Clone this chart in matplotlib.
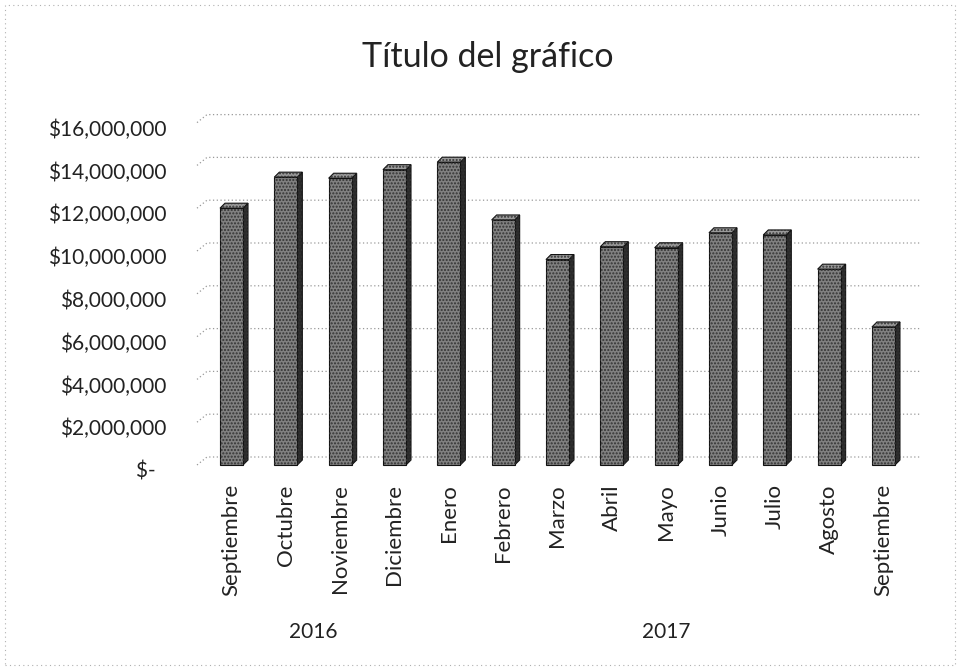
import matplotlib.pyplot as plt
from matplotlib.patches import Polygon, Rectangle
from matplotlib.transforms import ScaledTranslation
import numpy as np

# Monthly totals, Sept 2016 - Sept 2017
months = ['Septiembre', 'Octubre', 'Noviembre', 'Diciembre', 'Enero', 'Febrero', 'Marzo',
          'Abril', 'Mayo', 'Junio', 'Julio', 'Agosto', 'Septiembre']
values = [12000000, 13450000, 13400000, 13800000, 14150000, 11450000, 9600000,
          10200000, 10150000, 10850000, 10750000, 9150000, 6450000]
years = ['2016', '2017']
year_centers = [1.5, 8]          # 2016: Sep-Dic, 2017: Ene-Sep
y_ticks = list(range(0, 16000001, 2000000))

plt.rcParams['font.family'] = ['Lato', 'DejaVu Sans']

fig = plt.figure(figsize=(9.6, 6.68), dpi=100)
W, H = 960, 668

# axes placed in pixel terms: x 190..925, y 100..480
ax = fig.add_axes([190 / W, 1 - 480 / H, (925 - 190) / W, (480 - 100) / H])
px_x = 54.33                 # pixels per category
px_y = 21.4 / 1e6            # pixels per unit of value
ax.set_xlim((190 - 231.5) / px_x, (925 - 231.5) / px_x)
ax.set_ylim(-(480 - 465) / px_y, (465 - 100) / px_y)

# depth offsets of the 3D look (in data units)
wall_dx, wall_dy = 10 / px_x, 8 / px_y
bar_dx, bar_dy = 5 / px_x, 5 / px_y
half_w = 11.5 / px_x

# gridlines on the back wall with a short diagonal on the side wall
x_left = (197 - 231.5) / px_x
x_right = (920 - 231.5) / px_x
for v in y_ticks:
    ax.plot([x_left, x_left + wall_dx, x_right], [v, v + wall_dy, v + wall_dy],
            ls=(0, (1, 2)), color='#999999', lw=0.9, zorder=1)

# 3D columns
for i, v in enumerate(values):
    x0, x1 = i - half_w, i + half_w
    front = [(x0, 0), (x1, 0), (x1, v), (x0, v)]
    side = [(x1, 0), (x1 + bar_dx, bar_dy), (x1 + bar_dx, v + bar_dy), (x1, v)]
    top = [(x0, v), (x1, v), (x1 + bar_dx, v + bar_dy), (x0 + bar_dx, v + bar_dy)]
    for pts, fc in [(side, '#2a2a2a'), (top, '#9a9a9a'), (front, '#808080')]:
        ax.add_patch(Polygon(pts, closed=True, facecolor=fc, edgecolor='#111111',
                             lw=0.8, zorder=3))
        ax.add_patch(Polygon(pts, closed=True, facecolor='none', edgecolor='#333333',
                             hatch='.....', lw=0, zorder=4))

for s in ax.spines.values():
    s.set_visible(False)

# y axis labels in accounting style
ylabels = ['$-  '] + ['${:,.0f}'.format(v) for v in y_ticks[1:]]
ax.set_yticks(y_ticks)
ax.set_yticklabels(ylabels, fontsize=15, color='#222222')
ax.tick_params(axis='y', length=0, pad=17)
for lab in ax.get_yticklabels():
    lab.set_transform(lab.get_transform() + ScaledTranslation(0, -5 / 100, fig.dpi_scale_trans))

# month labels
ax.set_xticks(np.arange(len(months)))
ax.set_xticklabels(months, rotation=90, fontsize=16, color='#222222', va='top', ha='center')
ax.tick_params(axis='x', length=0, pad=3)

# year group labels
for yr, xc in zip(years, year_centers):
    ax.annotate(yr, xy=(xc, 36 / H), xycoords=('data', 'figure fraction'),
                ha='center', va='center', fontsize=15, color='#222222')

fig.text(488 / W, 1 - 57 / H, 'Título del gráfico', ha='center', va='center',
         fontsize=24.5, color='#222222')

# chart area border
fig.patches.append(Rectangle((5 / W, 3 / H), 950 / W, 660 / H, transform=fig.transFigure,
                             fill=False, ls=(0, (1, 3)), edgecolor='#b0b0b0', lw=0.8))

plt.savefig('out.png', dpi=100)
